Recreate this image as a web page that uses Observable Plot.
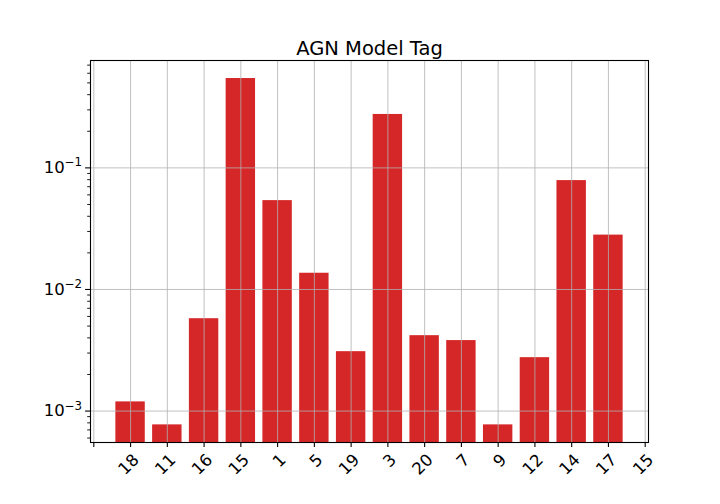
<!DOCTYPE html>
<html><head><meta charset="utf-8">
<script src="https://cdn.jsdelivr.net/npm/d3@7"></script>
<script src="https://cdn.jsdelivr.net/npm/@observablehq/plot@0.6"></script>
<style>body{margin:0;background:#fff} svg{font-family:"DejaVu Sans",sans-serif}</style>
</head><body><div id="chart"></div>
<script>
const titleText = "AGN Model Tag";
const categories = ["18","11","16","15","1","5","19","3","20","7","9","12","14","17"];
const values = [1.19e-3, 7.7e-4, 5.75e-3, 0.543, 0.0538, 0.0136, 3.08e-3, 0.275, 4.17e-3, 3.8e-3, 7.7e-4, 2.75e-3, 0.0786, 0.028];
const tickLabels = ["", "18","11","16","15","1","5","19","3","20","7","9","12","14","17","15"];
const yMajorTicks = [1e-3, 1e-2, 1e-1];
const yMajorExponents = ["−3", "−2", "−1"];
const yDomain = [5.515e-4, 0.764];
const xDomain = [-1.09, 14.09];

const bars = categories.map((c, i) => ({pos: i, cat: c, value: values[i]}));
const xTicks = tickLabels.map((_, i) => i - 1);
const yMinor = [];
for (let e = -4; e <= 0; e++) for (let m = 2; m <= 9; m++) {
  const v = m * Math.pow(10, e);
  if (v >= yDomain[0] && v <= yDomain[1]) yMinor.push(v);
}

const plot = Plot.plot({
  width: 720, height: 504,
  marginLeft: 90, marginRight: 72, marginTop: 60, marginBottom: 62,
  style: {fontFamily: "DejaVu Sans", fontSize: "16.5px", background: "white", color: "black"},
  x: {type: "linear", domain: xDomain, axis: null},
  y: {type: "log", domain: yDomain, axis: null},
  marks: [
    Plot.rect(bars, {x1: d => d.pos - 0.4, x2: d => d.pos + 0.4, y1: d => yDomain[0], y2: "value", fill: "#d62728"}),
    Plot.ruleX(xTicks, {x: d => d, stroke: "#b0b0b0", strokeWidth: 0.8}),
    Plot.ruleY(yMajorTicks, {y: d => d, stroke: "#b0b0b0", strokeWidth: 0.8}),
    Plot.frame({stroke: "black", strokeWidth: 1.1}),
    Plot.axisX({ticks: xTicks, tickSize: 4.9, tickFormat: () => "", strokeWidth: 1.1, label: null}),
    Plot.text(xTicks, {x: d => d, text: d => tickLabels[d + 1], frameAnchor: "bottom", rotate: -45,
      textAnchor: "end", lineAnchor: "top", dx: 1, dy: 10, fontSize: 16.5, fill: "black"}),
    Plot.axisY({ticks: yMajorTicks, tickFormat: d => "10" + yMajorExponents[yMajorTicks.indexOf(d)],
      tickSize: 4.9, tickPadding: 3.5, fontSize: 16.5, strokeWidth: 1.1, label: null, ariaLabel: "ymajor"}),
    Plot.axisY({ticks: yMinor, tickSize: 2.8, tickFormat: () => "", strokeWidth: 0.9, label: null}),
    Plot.text([titleText], {frameAnchor: "top", text: d => d, lineAnchor: "bottom", dy: -6, fontSize: 19.5, fill: "black"})
  ]
});

// render exponents as superscripts (mathtext style)
d3.select(plot).selectAll("text").each(function() {
  const t = this.textContent;
  const m = /^10(−\d)$/.exec(t);
  if (!m) return;
  const sel = d3.select(this);
  sel.text("10");
  sel.append("tspan").attr("dy", "-6.8").attr("font-size", "11.8").text(m[1]);
});
document.getElementById("chart").appendChild(plot);
</script>
</body></html>
